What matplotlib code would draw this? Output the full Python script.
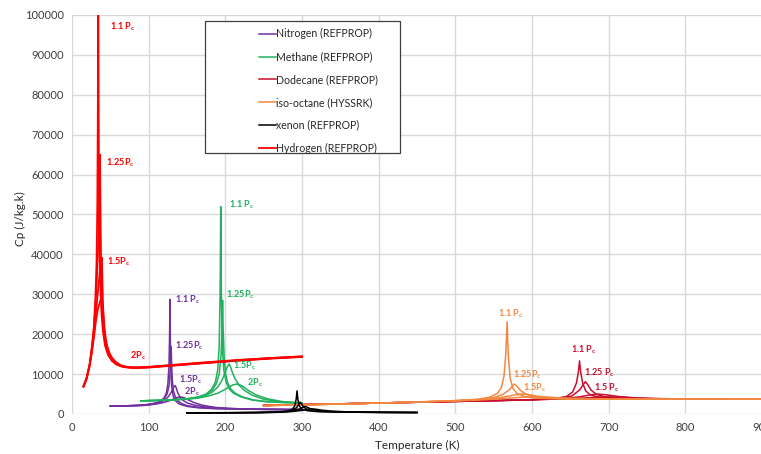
import matplotlib
matplotlib.use("Agg")
import matplotlib.pyplot as plt
from matplotlib.patches import Rectangle

plt.rcParams['font.family'] = ['Lato', 'DejaVu Sans']
plt.rcParams['mathtext.fontset'] = 'custom'
plt.rcParams['mathtext.rm'] = 'Lato'
plt.rcParams['mathtext.bf'] = 'Lato:bold'

# ---------------- data (T in K, Cp in J/kg.K) ----------------
# Hydrogen
h2_T_11 = [15, 19, 23, 26, 28.5, 30.5, 32, 33, 33.6, 34.0, 34.3, 34.7, 35.2, 36, 37, 38.5, 40.5, 43, 47, 52, 58, 65, 75, 85, 100, 130, 170, 220, 260, 300]
h2_cp_11 = [7000, 9000, 12500, 17000, 22000, 29000, 38000, 52000, 72000, 95000, 110000, 80000, 58000, 42000, 32000, 25000, 20500, 17200, 14800, 13300, 12400, 11900, 11600, 11550, 11650, 12100, 12700, 13400, 13900, 14300]
h2_T_125 = [15, 19, 23, 26, 28.5, 30.5, 32.5, 34, 35, 35.8, 36.5, 37.1, 37.8, 38.8, 40, 42, 44.5, 48, 53, 59, 66, 75, 85, 100, 130, 170, 220, 260, 300]
h2_cp_125 = [7000, 9000, 12400, 16500, 21000, 27000, 34000, 41000, 48000, 56000, 65000, 52000, 40000, 31000, 25000, 20000, 17000, 14800, 13400, 12500, 12000, 11700, 11600, 11700, 12150, 12750, 13450, 13950, 14350]
h2_T_15 = [15, 19, 23, 26, 28.5, 31, 33.5, 35.5, 37, 38.2, 39, 39.7, 40.5, 41.5, 43, 45, 48, 52, 57, 63, 70, 80, 90, 100, 130, 170, 220, 260, 300]
h2_cp_15 = [6900, 8900, 12200, 16000, 20000, 25000, 30000, 34000, 37000, 38500, 39200, 33000, 27000, 22500, 19000, 16500, 14700, 13500, 12600, 12000, 11700, 11600, 11650, 11750, 12200, 12800, 13500, 14000, 14400]
h2_T_2 = [15, 19, 23, 26, 28.5, 31, 34, 37, 39.5, 41, 42.5, 44, 46, 49, 53, 58, 64, 71, 80, 90, 105, 130, 170, 220, 260, 300]
h2_cp_2 = [6800, 8700, 12000, 15500, 19000, 23000, 26500, 28500, 28000, 25000, 21500, 19000, 17000, 15200, 13900, 12900, 12200, 11800, 11650, 11700, 11900, 12300, 12900, 13600, 14050, 14450]

# Nitrogen
n2_T_11 = [50, 70, 90, 100, 110, 115, 120, 123, 125, 126.5, 127.3, 127.8, 128.3, 129, 130, 132, 135, 140, 150, 165, 185, 210, 240, 270, 300]
n2_cp_11 = [2000, 2050, 2200, 2400, 2800, 3200, 4000, 5200, 7500, 12000, 20000, 28700, 18000, 11000, 7000, 4500, 3300, 2500, 1900, 1550, 1350, 1250, 1180, 1130, 1100]
n2_T_125 = [50, 70, 90, 100, 110, 115, 120, 124, 126.5, 128, 128.8, 129.3, 130, 131, 132.5, 135, 138, 143, 150, 165, 185, 210, 240, 270, 300]
n2_cp_125 = [2000, 2050, 2200, 2400, 2750, 3100, 3800, 5000, 7000, 10500, 14500, 16900, 12000, 8000, 5600, 4200, 3300, 2600, 2100, 1650, 1400, 1270, 1190, 1140, 1100]
n2_T_15 = [50, 70, 90, 100, 110, 115, 120, 125, 129, 132, 133.8, 134.7, 136, 138, 141, 145, 150, 160, 175, 195, 220, 250, 280, 300]
n2_cp_15 = [2000, 2050, 2180, 2350, 2650, 2950, 3400, 4200, 5300, 6500, 7000, 7100, 6500, 5300, 4200, 3400, 2800, 2200, 1750, 1450, 1280, 1180, 1120, 1100]
n2_T_2 = [50, 70, 90, 100, 110, 120, 128, 134, 139, 143, 147, 152, 160, 170, 185, 205, 230, 260, 300]
n2_cp_2 = [1950, 2000, 2100, 2250, 2500, 2900, 3400, 3900, 4200, 4250, 4000, 3500, 2800, 2200, 1700, 1400, 1230, 1150, 1100]

# Methane
ch4_T_11 = [90, 110, 130, 150, 165, 175, 182, 187, 190, 192, 193.2, 194, 194.8, 196, 198, 201, 205, 210, 220, 235, 255, 280, 300]
ch4_cp_11 = [3300, 3400, 3550, 3800, 4300, 5000, 6200, 8000, 11000, 17000, 30000, 52000, 30000, 17000, 11000, 8000, 6300, 5300, 4300, 3500, 3050, 2850, 2750]
ch4_T_125 = [90, 110, 130, 150, 165, 175, 183, 188, 192, 194.5, 195.8, 196.4, 197.2, 198.5, 200.5, 203, 207, 213, 222, 237, 257, 280, 300]
ch4_cp_125 = [3300, 3400, 3550, 3800, 4250, 4900, 6000, 7500, 10000, 15000, 22000, 28500, 21000, 14000, 10000, 7800, 6300, 5200, 4300, 3500, 3050, 2850, 2750]
ch4_T_15 = [90, 110, 130, 150, 165, 175, 183, 190, 195, 199, 202, 204, 205, 206.5, 209, 213, 218, 225, 235, 250, 270, 300]
ch4_cp_15 = [3300, 3400, 3550, 3750, 4150, 4700, 5500, 6700, 8200, 10000, 11600, 12300, 12500, 12000, 10500, 8700, 7200, 5900, 4700, 3700, 3100, 2750]
ch4_T_2 = [90, 110, 130, 150, 165, 178, 190, 198, 205, 210, 214, 218, 223, 230, 240, 255, 275, 300]
ch4_cp_2 = [3300, 3400, 3500, 3700, 4000, 4500, 5200, 6000, 6800, 7300, 7500, 7400, 6900, 5900, 4800, 3800, 3100, 2750]

# Dodecane
c12_T_11 = [250, 300, 350, 400, 450, 500, 550, 600, 630, 645, 653, 658, 660.5, 662, 663.5, 666, 670, 676, 685, 700, 730, 780, 850, 900]
c12_cp_11 = [2150, 2350, 2550, 2750, 2950, 3150, 3350, 3600, 3900, 4400, 5500, 7800, 10500, 13300, 10500, 7800, 5800, 4800, 4300, 4000, 3800, 3700, 3700, 3700]
c12_T_125 = [250, 300, 350, 400, 450, 500, 550, 600, 635, 652, 662, 667, 669.7, 672.5, 677, 684, 695, 710, 740, 800, 900]
c12_cp_125 = [2150, 2350, 2550, 2750, 2950, 3150, 3350, 3600, 3900, 4500, 6000, 7400, 8100, 7400, 6000, 4900, 4300, 4000, 3800, 3700, 3700]
c12_T_15 = [250, 300, 350, 400, 450, 500, 550, 600, 640, 660, 675, 686, 697, 712, 735, 770, 830, 900]
c12_cp_15 = [2150, 2350, 2550, 2750, 2950, 3150, 3350, 3550, 3850, 4250, 4750, 5000, 4800, 4400, 4000, 3800, 3700, 3700]
c12_T_2 = [250, 300, 350, 400, 450, 500, 550, 600, 650, 680, 702, 725, 755, 800, 900]
c12_cp_2 = [2150, 2350, 2550, 2750, 2950, 3150, 3350, 3550, 3850, 4150, 4300, 4150, 3900, 3750, 3700]

# iso-octane
ic8_T_11 = [250, 300, 350, 400, 450, 500, 530, 545, 555, 560, 563.5, 565.8, 567.5, 569, 571.5, 575, 580, 590, 605, 630, 670, 720, 800, 900]
ic8_cp_11 = [2100, 2300, 2500, 2750, 3000, 3350, 3700, 4200, 5200, 6600, 9500, 15000, 23100, 15000, 9000, 6500, 5200, 4400, 4000, 3800, 3700, 3700, 3700, 3750]
ic8_T_125 = [250, 300, 350, 400, 450, 500, 530, 550, 562, 570, 574.5, 577, 580, 585, 592, 602, 620, 650, 700, 800, 900]
ic8_cp_125 = [2100, 2300, 2500, 2750, 3000, 3350, 3650, 4100, 4900, 6000, 7000, 7500, 7000, 5900, 5000, 4400, 4000, 3800, 3700, 3700, 3750]
ic8_T_15 = [250, 300, 350, 400, 450, 500, 530, 555, 570, 580, 588, 596, 606, 620, 645, 690, 800, 900]
ic8_cp_15 = [2100, 2300, 2500, 2750, 3000, 3300, 3600, 4000, 4500, 4850, 5000, 4850, 4500, 4200, 3900, 3750, 3700, 3750]
ic8_T_2 = [250, 300, 350, 400, 450, 500, 540, 565, 585, 602, 620, 645, 680, 750, 900]
ic8_cp_2 = [2100, 2300, 2500, 2750, 3000, 3300, 3600, 3900, 4200, 4300, 4200, 3950, 3800, 3700, 3750]

# Xenon
xe_T_11 = [150, 200, 240, 265, 280, 287, 290.5, 292.5, 293.5, 294.5, 296.5, 300, 308, 320, 350, 400, 450]
xe_cp_11 = [300, 320, 380, 480, 700, 1100, 2000, 3800, 5800, 3800, 2000, 1200, 800, 600, 470, 400, 370]
xe_T_125 = [150, 200, 240, 265, 280, 288, 293, 296, 297.5, 299, 302, 306, 314, 325, 350, 400, 450]
xe_cp_125 = [300, 320, 370, 460, 650, 950, 1600, 2500, 3000, 2600, 1800, 1200, 800, 620, 480, 400, 370]
xe_T_15 = [150, 200, 240, 265, 280, 290, 297, 301, 303.5, 306, 310, 316, 325, 340, 370, 410, 450]
xe_cp_15 = [290, 310, 360, 440, 600, 850, 1250, 1700, 1900, 1750, 1400, 1050, 780, 600, 480, 410, 370]
xe_T_2 = [150, 200, 240, 265, 285, 298, 306, 312, 318, 326, 340, 360, 400, 450]
xe_cp_2 = [280, 300, 340, 410, 580, 850, 1100, 1300, 1200, 950, 700, 540, 430, 380]

fluid_names = ["Nitrogen (REFPROP)", "Methane (REFPROP)", "Dodecane (REFPROP)",
               "iso-octane (HYSSRK)", "xenon (REFPROP)", "Hydrogen (REFPROP)"]
fluid_colors = ["#7030A0", "#21B15E", "#C8102E", "#F4883F", "#000000", "#FF0000"]

fluid_curves = [
    [(n2_T_11, n2_cp_11), (n2_T_125, n2_cp_125), (n2_T_15, n2_cp_15), (n2_T_2, n2_cp_2)],
    [(ch4_T_11, ch4_cp_11), (ch4_T_125, ch4_cp_125), (ch4_T_15, ch4_cp_15), (ch4_T_2, ch4_cp_2)],
    [(c12_T_11, c12_cp_11), (c12_T_125, c12_cp_125), (c12_T_15, c12_cp_15), (c12_T_2, c12_cp_2)],
    [(ic8_T_11, ic8_cp_11), (ic8_T_125, ic8_cp_125), (ic8_T_15, ic8_cp_15), (ic8_T_2, ic8_cp_2)],
    [(xe_T_11, xe_cp_11), (xe_T_125, xe_cp_125), (xe_T_15, xe_cp_15), (xe_T_2, xe_cp_2)],
    [(h2_T_11, h2_cp_11), (h2_T_125, h2_cp_125), (h2_T_15, h2_cp_15), (h2_T_2, h2_cp_2)],
]
fluid_lw = [1.1, 1.1, 1.1, 1.1, 1.1, 1.3]

# annotation labels
ann_text = ["1.1 P", "1.25P", "1.5P", "2P",
            "1.1 P", "1.25P", "1.5P", "2P",
            "1.1 P", "1.25P", "1.5P", "2P",
            "1.1 P", "1.25P", "1.5P",
            "1.1 P", "1.25 P", "1.5 P"]
ann_T = [49.5, 44.5, 45.5, 75.5,
         134, 134, 139.5, 146,
         204.5, 200.5, 210, 228,
         555, 575, 588,
         651, 668, 681]
ann_cp = [97000, 63000, 38200, 14700,
          28700, 17000, 8600, 5700,
          52400, 29800, 12200, 7800,
          25000, 9800, 6500,
          16000, 10300, 6500]
ann_color = [5, 5, 5, 5, 0, 0, 0, 0, 1, 1, 1, 1, 3, 3, 3, 2, 2, 2]

x_ticks = [0, 100, 200, 300, 400, 500, 600, 700, 800, 900]
y_ticks = [0, 10000, 20000, 30000, 40000, 50000, 60000, 70000, 80000, 90000, 100000]

# ---------------- plot ----------------
W, H = 761, 454
fig = plt.figure(figsize=(W / 100, H / 100), dpi=100)
ax = fig.add_axes([72 / W, 40 / H, (762 - 72) / W, (414 - 15) / H])

for name, color, curves, lw in zip(fluid_names, fluid_colors, fluid_curves, fluid_lw):
    for i, (T, cp) in enumerate(curves):
        ax.plot(T, cp, color=color, lw=lw, label=name if i == 0 else None,
                solid_joinstyle='round')

for txt, T, cp, ci in zip(ann_text, ann_T, ann_cp, ann_color):
    ax.text(T, cp, txt + r"$_\mathbf{c}$", color=fluid_colors[ci], fontsize=6.6,
            fontweight='bold', ha='left', va='center')

ax.set_xlim(0, 900)
ax.set_ylim(0, 100000)
ax.set_xticks(x_ticks)
ax.set_yticks(y_ticks)
ax.tick_params(length=0, labelsize=8, colors='#404040', pad=6)
ax.grid(True, color='#D9D9D9', lw=1.0)
ax.set_axisbelow(True)
for s in ax.spines.values():
    s.set_visible(False)
ax.set_xlabel("Temperature (K)", fontsize=8.5, color='#262626', labelpad=5)
ax.set_ylabel("Cp (J/kg.k)", fontsize=8.5, color='#262626')
ax.yaxis.set_label_coords((26 - 72) / 690, 0.49)

# legend
fig.patches.append(Rectangle((205 / W, 1 - 153 / H), 195 / W, 132 / H,
                             transform=fig.transFigure, facecolor='white',
                             edgecolor='#404040', lw=0.9, zorder=5))
leg = fig.legend(loc='upper left', bbox_to_anchor=(251 / W, 1 - 20 / H),
                 frameon=False, fontsize=7.6, handlelength=1.6, handletextpad=0.0,
                 labelspacing=1.12, borderpad=0.3)
leg.set_zorder(6)
for t in leg.get_texts():
    t.set_color('#262626')

fig.savefig("out.png", dpi=100)
